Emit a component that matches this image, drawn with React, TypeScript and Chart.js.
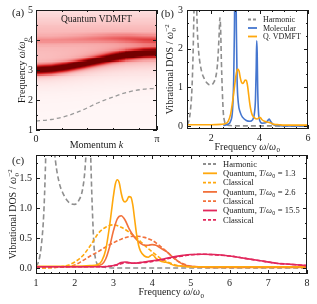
import React, { useEffect, useRef } from "react";
import { Chart, registerables } from "chart.js";
Chart.register(...registerables);

const SERIF = '"Liberation Serif", "Times New Roman", serif';
const INK = "#1a1a1a";

// ---------- Panel (a): spectral function heat map ----------
const heatK = [0, 0.4, 0.8, 1.2, 1.6, 2.0, 2.4, 2.8, Math.PI];
const mainBand = [3.0, 3.03, 3.1, 3.2, 3.31, 3.42, 3.51, 3.57, 3.59];
const upperBand = [4.0, 4.0, 4.02, 4.04, 4.06, 4.07, 4.06, 4.03, 4.02];
const upperWeight = [0.1, 0.1, 0.11, 0.13, 0.16, 0.2, 0.24, 0.27, 0.28];
const dispersionK = [0, 0.4, 0.8, 1.2, 1.6, 2.0, 2.4, 2.8, Math.PI];
const dispersionW = [1.3, 1.35, 1.47, 1.66, 1.9, 2.1, 2.27, 2.36, 2.39];
const aXTicks = [0, Math.PI];
const aXLabels = ["0", "π"];
const aXMinor = [2 / 3, 4 / 3, 2, 8 / 3];
const aYTicks = [1, 2, 3, 4, 5];
const aYMinor = [1.5, 2.5, 3.5, 4.5];

// ---------- Shared DOS curves ----------
const harmonicX = [1.0, 1.05, 1.1, 1.15, 1.2, 1.24, 1.27, 1.3, 1.34, 1.38, 1.42, 1.46, 1.5, 1.6, 1.7, 1.8, 1.9, 2.0, 2.1, 2.2, 2.26, 2.3, 2.33, 2.36, 2.39, 2.42, 2.46, 2.5, 2.55, 2.6, 2.7, 2.8, 3.0, 4.0, 5.0, 6.0, 7.0, 8.0];
const harmonicY = [0.03, 0.08, 0.2, 0.45, 0.9, 1.6, 2.4, 3.4, 4.5, 3.6, 2.6, 2.1, 1.8, 1.42, 1.24, 1.13, 1.07, 1.06, 1.12, 1.3, 1.6, 2.0, 2.4, 2.8, 2.5, 1.7, 0.9, 0.35, 0.12, 0.05, 0.02, 0.01, 0.0, 0.0, 0.0, 0.0, 0.0, 0.0];

const molecularX = [2.5, 2.7, 2.8, 2.88, 2.93, 2.96, 2.98, 3.0, 3.02, 3.04, 3.07, 3.12, 3.2, 3.3, 3.45, 3.6, 3.7, 3.78, 3.83, 3.86, 3.88, 3.9, 3.92, 3.95, 4.0, 4.1, 4.25, 4.35, 4.4, 4.45, 4.55, 4.7, 5.0, 6.0];
const molecularY = [0.01, 0.05, 0.12, 0.4, 1.2, 2.5, 4.0, 5.0, 4.0, 2.5, 1.2, 0.6, 0.35, 0.22, 0.14, 0.12, 0.15, 0.3, 0.7, 1.5, 2.2, 1.9, 1.0, 0.4, 0.15, 0.07, 0.08, 0.15, 0.18, 0.12, 0.04, 0.01, 0.0, 0.0];

const quantum13X = [1.0, 1.5, 2.0, 2.4, 2.6, 2.7, 2.8, 2.9, 2.95, 3.0, 3.05, 3.1, 3.15, 3.2, 3.25, 3.3, 3.35, 3.4, 3.45, 3.5, 3.55, 3.6, 3.65, 3.7, 3.8, 3.9, 3.95, 4.0, 4.05, 4.1, 4.2, 4.3, 4.4, 4.45, 4.5, 4.6, 4.8, 5.0, 5.5, 6.0, 7.0, 8.0];
const quantum13Y = [0.03, 0.03, 0.03, 0.04, 0.06, 0.12, 0.3, 0.7, 0.95, 1.2, 1.4, 1.47, 1.42, 1.25, 1.13, 1.1, 1.13, 1.19, 1.18, 1.05, 0.8, 0.55, 0.38, 0.28, 0.2, 0.18, 0.2, 0.22, 0.2, 0.16, 0.12, 0.1, 0.09, 0.08, 0.06, 0.04, 0.03, 0.02, 0.02, 0.02, 0.02, 0.02];
const classical13X = [1.0, 1.5, 1.8, 2.0, 2.2, 2.4, 2.5, 2.6, 2.8, 3.0, 3.2, 3.4, 3.6, 3.8, 4.0, 4.2, 4.4, 4.6, 4.8, 5.0, 5.5, 6.0, 7.0, 8.0];
const classical13Y = [0.0, 0.01, 0.04, 0.1, 0.2, 0.37, 0.47, 0.57, 0.68, 0.72, 0.68, 0.6, 0.5, 0.38, 0.27, 0.17, 0.1, 0.05, 0.03, 0.02, 0.01, 0.01, 0.01, 0.01];
const quantum26X = [1.0, 2.0, 2.5, 2.7, 2.8, 2.9, 3.0, 3.1, 3.2, 3.3, 3.4, 3.5, 3.6, 3.7, 3.8, 3.9, 4.0, 4.1, 4.2, 4.3, 4.4, 4.5, 4.6, 4.7, 4.8, 5.0, 5.5, 6.0, 7.0, 8.0];
const quantum26Y = [0.02, 0.02, 0.03, 0.06, 0.15, 0.35, 0.62, 0.82, 0.87, 0.8, 0.66, 0.55, 0.47, 0.41, 0.38, 0.38, 0.39, 0.38, 0.34, 0.3, 0.26, 0.2, 0.15, 0.1, 0.06, 0.03, 0.02, 0.02, 0.02, 0.02];
const classical26X = [1.0, 1.5, 1.8, 2.0, 2.2, 2.4, 2.6, 2.8, 3.0, 3.2, 3.4, 3.6, 3.8, 4.0, 4.2, 4.4, 4.6, 4.8, 5.0, 5.2, 5.5, 6.0, 7.0, 8.0];
const classical26Y = [0.0, 0.01, 0.02, 0.05, 0.12, 0.2, 0.27, 0.35, 0.42, 0.48, 0.52, 0.53, 0.51, 0.46, 0.37, 0.26, 0.14, 0.07, 0.03, 0.02, 0.01, 0.01, 0.01, 0.01];
const quantum155X = [1.0, 2.0, 2.6, 2.9, 3.1, 3.2, 3.3, 3.4, 3.5, 3.7, 3.9, 4.1, 4.3, 4.5, 4.8, 5.0, 5.3, 5.6, 6.0, 6.4, 6.8, 7.2, 7.6, 8.0];
const quantum155Y = [0.02, 0.02, 0.02, 0.03, 0.06, 0.09, 0.1, 0.09, 0.08, 0.09, 0.11, 0.13, 0.15, 0.18, 0.21, 0.225, 0.23, 0.225, 0.2, 0.16, 0.12, 0.08, 0.06, 0.04];
const classical155X = [1.0, 2.0, 2.6, 2.9, 3.1, 3.25, 3.35, 3.5, 3.7, 3.9, 4.1, 4.3, 4.5, 4.8, 5.0, 5.3, 5.6, 6.0, 6.4, 6.8, 7.2, 7.6, 8.0];
const classical155Y = [0.02, 0.02, 0.02, 0.03, 0.05, 0.08, 0.09, 0.08, 0.09, 0.1, 0.12, 0.14, 0.17, 0.2, 0.22, 0.23, 0.22, 0.2, 0.16, 0.12, 0.08, 0.06, 0.04];

const bXTicks = [2, 4, 6];
const bXMinor = [1.5, 2.5, 3, 3.5, 4.5, 5, 5.5];
const bYTicks = [0, 1, 2, 3];
const bYMinor = [1 / 3, 2 / 3, 4 / 3, 5 / 3, 7 / 3, 8 / 3];
const cXTicks = [1, 2, 3, 4, 5, 6, 7, 8];
const cXMinor: number[] = [];
for (let i = 1; i < 8; i++) for (let j = 1; j < 5; j++) cXMinor.push(i + j * 0.2);
const cYTicks = [0, 0.5, 1.0, 1.5];
const cYMinor = [0.25, 0.75, 1.25, 1.75];

const GRAY = "#8e8e8e";
const BLUE = "#4576cf";
const ORANGE = "#ffa80d";
const CORAL = "#f2713b";
const CRIMSON = "#e2275c";

// ---------- helpers ----------
type Seg = { t: string; it?: boolean; sub?: string; sup?: string };
const fnt = (size: number, it?: boolean) => `${it ? "italic " : ""}${size}px ${SERIF}`;
function segW(ctx: CanvasRenderingContext2D, s: Seg, size: number) {
  ctx.font = fnt(size, s.it);
  let w = ctx.measureText(s.t).width;
  if (s.sub || s.sup) {
    ctx.font = fnt(size * 0.7);
    w += Math.max(s.sub ? ctx.measureText(s.sub).width : 0, s.sup ? ctx.measureText(s.sup).width : 0) + 0.8;
  }
  return w;
}
function drawRich(ctx: CanvasRenderingContext2D, segs: Seg[], x: number, cy: number, size: number, align: "left" | "center" = "left", color = INK) {
  const total = segs.reduce((a, s) => a + segW(ctx, s, size), 0);
  let cx = align === "center" ? x - total / 2 : x;
  const y = cy + size * 0.33;
  ctx.save();
  ctx.fillStyle = color;
  ctx.textBaseline = "alphabetic";
  ctx.textAlign = "left";
  for (const s of segs) {
    ctx.font = fnt(size, s.it);
    ctx.fillText(s.t, cx, y);
    cx += ctx.measureText(s.t).width;
    if (s.sub || s.sup) {
      ctx.font = fnt(size * 0.7);
      let w = 0;
      if (s.sub) { ctx.fillText(s.sub, cx + 0.4, y + size * 0.22); w = Math.max(w, ctx.measureText(s.sub).width); }
      if (s.sup) { ctx.fillText(s.sup, cx + 0.4, y - size * 0.42); w = Math.max(w, ctx.measureText(s.sup).width); }
      cx += w + 0.8;
    }
  }
  ctx.restore();
}
function drawRotated(ctx: CanvasRenderingContext2D, segs: Seg[], cx: number, cy: number, size: number) {
  ctx.save();
  ctx.translate(cx, cy);
  ctx.rotate(-Math.PI / 2);
  drawRich(ctx, segs, 0, 0, size, "center");
  ctx.restore();
}
const pts = (xs: number[], ys: number[]) => xs.map((x, i) => ({ x, y: ys[i] }));
function interp(xs: number[], ys: number[], x: number) {
  if (x <= xs[0]) return ys[0];
  for (let i = 1; i < xs.length; i++) {
    if (x <= xs[i]) { const t = (x - xs[i - 1]) / (xs[i] - xs[i - 1]); return ys[i - 1] + t * (ys[i] - ys[i - 1]); }
  }
  return ys[ys.length - 1];
}

function axis(min: number, max: number, major: number[], label: (v: number) => string, fixed: { w?: number; h?: number }, pad: number) {
  return {
    type: "linear", min, max,
    grid: { display: false, drawTicks: false },
    border: { display: false },
    ticks: { autoSkip: false, maxRotation: 0, minRotation: 0, padding: pad, color: INK, font: { family: SERIF, size: 10 }, callback: (v: any) => label(Number(v)) },
    afterBuildTicks: (s: any) => { s.ticks = major.map((v) => ({ value: v })); },
    afterFit: (s: any) => {
      if (fixed.w != null) s.width = fixed.w;
      if (fixed.h != null) s.height = fixed.h;
      s.paddingLeft = 0; s.paddingRight = 0; s.paddingTop = 0; s.paddingBottom = 0;
    },
  };
}

function framePlugin(spec: { xMajor: number[]; xMinor: number[]; yMajor: number[]; yMinor: number[]; decor: (ctx: CanvasRenderingContext2D, chart: any) => void; before?: (ctx: CanvasRenderingContext2D, chart: any) => void }) {
  return {
    id: "frame",
    beforeDatasetsDraw(chart: any) { if (spec.before) spec.before(chart.ctx, chart); },
    afterDatasetsDraw(chart: any) {
      const { ctx, chartArea: a, scales } = chart;
      const xs = scales.x, ys = scales.y;
      ctx.save();
      ctx.strokeStyle = INK;
      ctx.lineWidth = 1;
      ctx.beginPath();
      const vt = (v: number, len: number) => {
        const p = Math.round(xs.getPixelForValue(v)) + 0.5;
        ctx.moveTo(p, a.bottom); ctx.lineTo(p, a.bottom - len);
        ctx.moveTo(p, a.top); ctx.lineTo(p, a.top + len);
      };
      const ht = (v: number, len: number) => {
        const p = Math.round(ys.getPixelForValue(v)) + 0.5;
        ctx.moveTo(a.left, p); ctx.lineTo(a.left + len, p);
        ctx.moveTo(a.right, p); ctx.lineTo(a.right - len, p);
      };
      spec.xMajor.forEach((v) => vt(v, 4));
      spec.xMinor.forEach((v) => vt(v, 2));
      spec.yMajor.forEach((v) => ht(v, 4));
      spec.yMinor.forEach((v) => ht(v, 2));
      ctx.stroke();
      ctx.strokeRect(a.left + 0.5, a.top + 0.5, a.right - a.left - 1, a.bottom - a.top - 1);
      ctx.restore();
      spec.decor(ctx, chart);
    },
  };
}

function legendRow(ctx: CanvasRenderingContext2D, x0: number, x1: number, y: number, color: string, dash: number[], segs: Seg[], tx: number, size: number) {
  ctx.save();
  ctx.strokeStyle = color;
  ctx.lineWidth = 1.8;
  ctx.setLineDash(dash);
  ctx.beginPath();
  ctx.moveTo(x0, y); ctx.lineTo(x1, y);
  ctx.stroke();
  ctx.restore();
  drawRich(ctx, segs, tx, y, size, "left");
}

const cmapStops = [0, 0.08, 0.2, 0.38, 0.58, 0.8, 1];
const cmapColors = [[255, 247, 247], [253, 224, 224], [249, 180, 180], [238, 108, 108], [215, 35, 35], [160, 5, 10], [115, 0, 0]];
function cmap(t: number) {
  t = Math.max(0, Math.min(1, t));
  for (let i = 1; i < cmapStops.length; i++) {
    if (t <= cmapStops[i]) {
      const f = (t - cmapStops[i - 1]) / (cmapStops[i] - cmapStops[i - 1]);
      const a = cmapColors[i - 1], b = cmapColors[i];
      return `rgb(${Math.round(a[0] + f * (b[0] - a[0]))},${Math.round(a[1] + f * (b[1] - a[1]))},${Math.round(a[2] + f * (b[2] - a[2]))})`;
    }
  }
  return "rgb(115,0,0)";
}
function heatIntensity(k: number, w: number) {
  const c = interp(heatK, mainBand, k);
  const u = interp(heatK, upperBand, k);
  const ua = interp(heatK, upperWeight, k);
  const d = w - c;
  const core = 0.8 * Math.exp(-0.5 * (d / 0.09) ** 2);
  const halo = 0.42 / (1 + (d / 0.15) ** 2);
  const up = ua * Math.exp(-0.5 * ((w - u) / 0.1) ** 2);
  const bg = 0.19 * Math.exp(-0.5 * ((w - 4.05) / 0.7) ** 2);
  return Math.min(1, core + halo + up + bg);
}

function baseOptions(padding: any, scales: any) {
  return {
    responsive: false,
    maintainAspectRatio: false,
    animation: false,
    devicePixelRatio: 1,
    events: [],
    layout: { padding },
    plugins: { legend: { display: false }, tooltip: { enabled: false } },
    elements: { point: { radius: 0 }, line: { tension: 0.4, cubicInterpolationMode: "monotone" } },
    scales,
  };
}
function line(data: any, color: string, dash: number[] = [], width = 1.6) {
  return { data, borderColor: color, backgroundColor: color, borderWidth: width, borderDash: dash, showLine: true, pointRadius: 0, fill: false, cubicInterpolationMode: "monotone", tension: 0.4 };
}

const freqSegs: Seg[] = [{ t: "Frequency " }, { t: "ω", it: true }, { t: "/" }, { t: "ω", it: true, sub: "0" }];
const dosSegs: Seg[] = [{ t: "Vibrational DOS / " }, { t: "ω", it: true, sub: "0", sup: "−2" }];

export default function App() {
  const ra = useRef<HTMLCanvasElement>(null);
  const rb = useRef<HTMLCanvasElement>(null);
  const rc = useRef<HTMLCanvasElement>(null);

  useEffect(() => {
    const charts: Chart[] = [];
    // ---------- (a) ----------
    charts.push(new Chart(ra.current!, {
      type: "scatter",
      data: { datasets: [line(pts(dispersionK, dispersionW), "#9a9a9a", [4, 3], 1.3)] },
      options: baseOptions({ left: 0, top: 10, right: 160, bottom: 152 }, {
        x: axis(0, Math.PI, aXTicks, (v) => aXLabels[aXTicks.findIndex((t) => Math.abs(t - v) < 1e-6)] ?? "", { h: 22 }, 3),
        y: axis(1, 5, aYTicks, (v) => String(v), { w: 36 }, 3),
      }) as any,
      plugins: [framePlugin({
        xMajor: aXTicks, xMinor: aXMinor, yMajor: aYTicks, yMinor: aYMinor,
        before: (ctx, chart) => {
          const { chartArea: a, scales } = chart;
          const xs = scales.x, ys = scales.y;
          const nK = 121, nW = 120;
          ctx.save();
          ctx.beginPath(); ctx.rect(a.left, a.top, a.right - a.left, a.bottom - a.top); ctx.clip();
          for (let i = 0; i < nK; i++) {
            const k0 = (i / nK) * Math.PI, k1 = ((i + 1) / nK) * Math.PI;
            const x0 = Math.floor(xs.getPixelForValue(k0)), x1 = Math.ceil(xs.getPixelForValue(k1));
            const km = (k0 + k1) / 2;
            for (let j = 0; j < nW; j++) {
              const w0 = 1 + (j / nW) * 4, w1 = 1 + ((j + 1) / nW) * 4;
              const y0 = Math.floor(ys.getPixelForValue(w1)), y1 = Math.ceil(ys.getPixelForValue(w0));
              ctx.fillStyle = cmap(heatIntensity(km, (w0 + w1) / 2));
              ctx.fillRect(x0, y0, x1 - x0, y1 - y0);
            }
          }
          ctx.restore();
        },
        decor: (ctx) => {
          drawRich(ctx, [{ t: "(a)" }], 12, 12.5, 11);
          drawRich(ctx, [{ t: "Quantum VDMFT" }], 96.5, 18.5, 9.5, "center");
          drawRich(ctx, [{ t: "Momentum " }, { t: "k", it: true }], 96.5, 145, 10, "center");
          drawRotated(ctx, freqSegs, 22, 70, 10);
        },
      })],
    }));

    // ---------- (b) ----------
    charts.push(new Chart(rb.current!, {
      type: "scatter",
      data: {
        datasets: [
          line(pts(quantum13X, quantum13Y), ORANGE),
          line(pts(molecularX, molecularY), BLUE),
          line(pts(harmonicX, harmonicY), GRAY, [5, 3], 1.6),
        ],
      },
      options: baseOptions({ left: 157, top: 10, right: 9, bottom: 153 }, {
        x: axis(1, 6, bXTicks, (v) => String(v), { h: 22 }, 3),
        y: axis(-0.08, 3, bYTicks, (v) => String(v), { w: 30 }, 4),
      }) as any,
      plugins: [framePlugin({
        xMajor: bXTicks, xMinor: bXMinor, yMajor: bYTicks, yMinor: bYMinor,
        decor: (ctx) => {
          drawRich(ctx, [{ t: "(b)" }], 161, 13, 11);
          drawRich(ctx, freqSegs, 247.5, 146.5, 10, "center");
          drawRotated(ctx, dosSegs, 170, 69, 10);
          legendRow(ctx, 248, 257, 19.5, GRAY, [3, 2], [{ t: "Harmonic" }], 263, 8);
          legendRow(ctx, 248, 257, 28, BLUE, [], [{ t: "Molecular" }], 263, 8);
          legendRow(ctx, 248, 257, 36.5, ORANGE, [], [{ t: "Q. VDMFT" }], 263, 8);
        },
      })],
    }));

    // ---------- (c) ----------
    charts.push(new Chart(rc.current!, {
      type: "scatter",
      data: {
        datasets: [
          line(pts(quantum155X, quantum155Y), CRIMSON),
          line(pts(classical155X, classical155Y), CRIMSON, [4, 2]),
          line(pts(quantum13X, quantum13Y), ORANGE),
          line(pts(quantum26X, quantum26Y), CORAL),
          line(pts(classical13X, classical13Y), ORANGE, [4, 2]),
          line(pts(classical26X, classical26Y), CORAL, [4, 2]),
          line(pts(harmonicX, harmonicY), GRAY, [5, 3], 1.6),
        ],
      },
      options: baseOptions({ left: 0, top: 155, right: 10, bottom: 0 }, {
        x: axis(1, 8, cXTicks, (v) => String(v), { h: 30 }, 3),
        y: axis(-0.1, 1.883, cYTicks, (v) => v.toFixed(1), { w: 36 }, 4),
      }) as any,
      plugins: [framePlugin({
        xMajor: cXTicks, xMinor: cXMinor, yMajor: cYTicks, yMinor: cYMinor,
        decor: (ctx) => {
          drawRich(ctx, [{ t: "(c)" }], 12, 160, 11);
          drawRich(ctx, freqSegs, 171.5, 292, 10, "center");
          drawRotated(ctx, dosSegs, 13, 214, 10);
          const x0 = 203, x1 = 217, tx = 223, s = 8.5;
          const rows: [string, number[], Seg[]][] = [
            [GRAY, [3, 2], [{ t: "Harmonic" }]],
            [ORANGE, [], [{ t: "Quantum, " }, { t: "T", it: true }, { t: "/" }, { t: "ω", it: true, sub: "0" }, { t: " = 1.3" }]],
            [ORANGE, [3, 2], [{ t: "Classical" }]],
            [CORAL, [], [{ t: "Quantum, " }, { t: "T", it: true }, { t: "/" }, { t: "ω", it: true, sub: "0" }, { t: " = 2.6" }]],
            [CORAL, [3, 2], [{ t: "Classical" }]],
            [CRIMSON, [], [{ t: "Quantum, " }, { t: "T", it: true }, { t: "/" }, { t: "ω", it: true, sub: "0" }, { t: " = 15.5" }]],
            [CRIMSON, [3, 2], [{ t: "Classical" }]],
          ];
          rows.forEach((r, i) => legendRow(ctx, x0, x1, 164 + i * 9.3, r[0], r[1], r[2], tx, s));
        },
      })],
    }));
    return () => charts.forEach((c) => c.destroy());
  }, []);

  const cs: React.CSSProperties = { position: "absolute", left: 0, top: 0, width: 317, height: 304 };
  return (
    <div style={{ position: "fixed", left: 0, top: 0, width: 317, height: 304, background: "#fff" }}>
      <canvas ref={ra} width={317} height={304} style={cs} />
      <canvas ref={rb} width={317} height={304} style={cs} />
      <canvas ref={rc} width={317} height={304} style={cs} />
    </div>
  );
}
